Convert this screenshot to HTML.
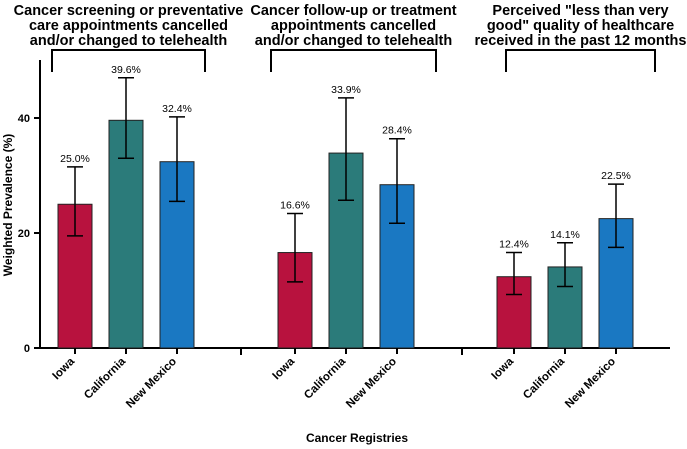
<!DOCTYPE html>
<html><head><meta charset="utf-8"><style>
body{margin:0;background:#fff}
svg{display:block;font-family:"Liberation Sans",sans-serif}
</style></head><body>
<svg id="c" width="687" height="449"></svg>
<script>
const categories=["Iowa","California","New Mexico"];
const groupTitles=[["Cancer screening or preventative","care appointments cancelled","and/or changed to telehealth"],["Cancer follow-up or treatment","appointments cancelled","and/or changed to telehealth"],["Perceived \"less than very","good\" quality of healthcare","received in the past 12 months"]];
const values=[[25.0,39.6,32.4],[16.6,33.9,28.4],[12.4,14.1,22.5]];
const lows=[[19.5,33.0,25.5],[11.5,25.7,21.7],[9.3,10.7,17.5]];
const highs=[[31.5,47.0,40.2],[23.4,43.5,36.4],[16.6,18.3,28.5]];
const yTicks=[0,20,40];
const colors=["#b8123e","#2b7b7a","#1a78c2"];
const NS="http://www.w3.org/2000/svg";
const svg=document.getElementById('c');
function el(t,a,txt){const e=document.createElementNS(NS,t);for(const k in a)e.setAttribute(k,a[k]);if(txt!==undefined)e.textContent=txt;svg.appendChild(e);return e;}
const y=v=>348-v*5.75;
const groupStart=[58,278,497], barW=34, step=51;
const x=(g,i)=>groupStart[g]+i*step;
let a=el('line',{x1:40,y1:60,x2:40,y2:349,stroke:'#000','stroke-width':2});

a=el('line',{x1:39,y1:348,x2:670,y2:348,stroke:'#000','stroke-width':2});

yTicks.forEach(t=>{
 let l=el('line',{x1:34,y1:y(t),x2:40,y2:y(t),stroke:'#000','stroke-width':2});
 
 let tx=el('text',{x:30,y:y(t)+4,'text-anchor':'end','font-size':11,'font-weight':'bold'},t);
 
});
[241,462].forEach(sx=>{let l=el('line',{x1:sx,y1:348,x2:sx,y2:355,stroke:'#000','stroke-width':2});
 });
const bx=[[52,205],[271,436],[506,655]];
values.forEach((grp,g)=>{
 let p=el('path',{d:`M${bx[g][0]} 72V50H${bx[g][1]}V72`,fill:'none',stroke:'#000','stroke-width':2});
 
 const cx=(bx[g][0]+bx[g][1])/2;
 groupTitles[g].forEach((ln,k)=>{let t=el('text',{x:cx,y:15+k*15,'text-anchor':'middle','font-size':14.5,'font-weight':'bold'},ln);
  });
 grp.forEach((v,i)=>{
  const x0=x(g,i),c=x0+barW/2;
  let r=el('rect',{x:x0,y:y(v),width:barW,height:348-y(v),fill:colors[i],stroke:'#222','stroke-width':1});
  
  let e=el('path',{d:`M${c} ${y(lows[g][i])}V${y(highs[g][i])}M${c-8} ${y(lows[g][i])}H${c+8}M${c-8} ${y(highs[g][i])}H${c+8}`,stroke:'#000','stroke-width':1.5,fill:'none'});
  
  let vl=el('text',{x:c,y:y(highs[g][i])-5,'text-anchor':'middle','font-size':10.5},v.toFixed(1)+'%');
  
  let tk=el('line',{x1:c,y1:348,x2:c,y2:354,stroke:'#000','stroke-width':2});
  
  let xl=el('text',{x:c,y:362,'text-anchor':'end','font-size':11.5,'font-weight':'bold',transform:`rotate(-45 ${c} 362)`},categories[i]);
  
 });
});
let t=el('text',{x:12,y:205,'text-anchor':'middle','font-size':12,'font-weight':'bold',transform:'rotate(-90 12 205)'},'Weighted Prevalence (%)');

t=el('text',{x:357,y:442,'text-anchor':'middle','font-size':12,'font-weight':'bold'},'Cancer Registries');

</script>
</body></html>
